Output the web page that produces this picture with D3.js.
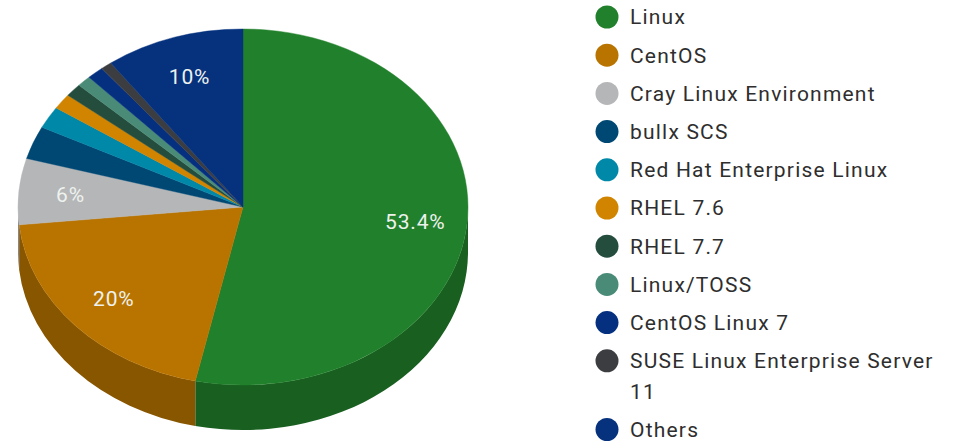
<!DOCTYPE html>
<html>
<head>
<meta charset="utf-8">
<script src="https://d3js.org/d3.v7.min.js"></script>
<title>Operating systems</title>
<style>
  body { margin: 0; background: #fff; font-family: Roboto, sans-serif; }
</style>
</head>
<body>
<script>
// share of systems, in percent
var names = ["Linux", "CentOS", "Cray Linux Environment", "bullx SCS",
             "Red Hat Enterprise Linux", "RHEL 7.6", "RHEL 7.7", "Linux/TOSS",
             "CentOS Linux 7", "SUSE Linux Enterprise Server 11", "Others"];
var shares = [53.4, 20, 6, 3, 2, 1.4, 1.2, 1, 1.2, 0.8, 10];
var colours = ["#21802b", "#b97400", "#b5b6b8", "#004874", "#0088a8", "#d18400",
               "#244d3e", "#4a8b78", "#05307f", "#3c3d41", "#05317d"];

var W = 959, H = 443,
    cx = 243, cy = 207,   // pie centre
    rx = 225, ry = 178,   // top face ellipse
    depth = 45,           // wall height
    lblR = 0.77;          // label distance, fraction of radius

var svg = d3.select("body").append("svg")
  .attr("width", W)
  .attr("height", H);

var data = names.map(function(n, i){ return {name: n, value: shares[i], colour: colours[i]}; });

var pie = d3.pie().sort(null).value(function(d){ return d.value; });
var arcs = pie(data);

function pt(a, dy){ return [rx*Math.sin(a), -ry*Math.cos(a) + (dy||0)]; }

// outer walls, only the front half shows
var chart = svg.append("g").attr("transform", "translate(" + cx + "," + cy + ")");
chart.selectAll("path.side")
  .data(arcs.filter(function(d){ return d.endAngle > Math.PI/2 && d.startAngle < 3*Math.PI/2; }))
  .enter().append("path")
    .attr("class", "side")
    .attr("fill", function(d){ return d3.color(d.data.colour).darker(0.85); })
    .attr("d", function(d){
      var lo = Math.max(d.startAngle, Math.PI/2),
          hi = Math.min(d.endAngle, 3*Math.PI/2),
          a = pt(lo), b = pt(hi), b2 = pt(hi, depth), a2 = pt(lo, depth);
      return "M" + a + "A" + rx + "," + ry + " 0 0 1 " + b +
             "L" + b2 + "A" + rx + "," + ry + " 0 0 0 " + a2 + "Z";
    });

// top faces: a circle pie squashed into the ellipse
var arc = d3.arc().innerRadius(0).outerRadius(rx);
chart.append("g")
  .attr("transform", "scale(1," + (ry/rx) + ")")
  .selectAll("path.top")
  .data(arcs)
  .enter().append("path")
    .attr("class", "top")
    .attr("fill", function(d){ return d.data.colour; })
    .attr("stroke", function(d){ return d.data.colour; })
    .attr("stroke-width", 0.5)
    .attr("d", arc);

// percentage labels on the big slices
chart.selectAll("text.lbl")
  .data(arcs.filter(function(d){ return d.data.value >= 5; }))
  .enter().append("text")
    .attr("class", "lbl")
    .attr("x", function(d){ return lblR*pt((d.startAngle + d.endAngle)/2)[0]; })
    .attr("y", function(d){ return lblR*pt((d.startAngle + d.endAngle)/2)[1]; })
    .attr("dy", "0.35em")
    .attr("text-anchor", "middle")
    .attr("fill", "#eef2ee")
    .style("font-size", "21px")
    .style("letter-spacing", "0.8px")
    .text(function(d){ return d.data.value + "%"; });

// legend
var rowH = 38.2, wrapH = 30.5;
var lg = svg.append("g").attr("transform", "translate(607,17)");
var rowY = [], y = 0;
data.forEach(function(d){
  rowY.push(y);
  y += rowH + (d.name.length > 26 ? wrapH : 0);
});
var item = lg.selectAll("g")
  .data(data)
  .enter().append("g")
    .attr("transform", function(d, i){ return "translate(0," + rowY[i] + ")"; });
item.append("circle")
  .attr("r", 11.5)
  .attr("fill", function(d){ return d.colour; });
item.append("text")
  .attr("x", 23)
  .attr("dy", "0.35em")
  .attr("fill", "#2e2e2e")
  .style("font-size", "21px")
  .style("letter-spacing", "1.2px")
  .each(function(d){
    var t = d3.select(this);
    if (d.name.length > 26) {
      var parts = d.name.split(" "), last = parts.pop();
      t.append("tspan").attr("x", 23).text(parts.join(" "));
      t.append("tspan").attr("x", 23).attr("dy", wrapH).text(last);
    } else {
      t.text(d.name);
    }
  });
</script>
</body>
</html>
